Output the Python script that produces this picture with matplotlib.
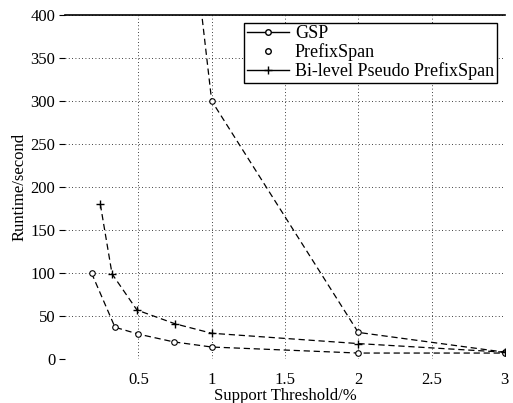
import matplotlib
matplotlib.use("Agg")
import matplotlib.pyplot as plt
from matplotlib.lines import Line2D

# Data
gsp_x = [0.75, 1.0, 2.0, 3.0]
gsp_y = [670, 300, 31, 8]

prefixspan_x = [0.18, 0.34, 0.5, 0.74, 1.0, 2.0, 3.0]
prefixspan_y = [100, 37, 29, 20, 14, 7, 7]

bilevel_x = [0.24, 0.32, 0.49, 0.75, 1.0, 2.0, 3.0]
bilevel_y = [180, 99, 57, 41, 30, 18, 8]

x_ticks = [0.5, 1, 1.5, 2, 2.5, 3]
y_ticks = [0, 50, 100, 150, 200, 250, 300, 350, 400]
labels = ["GSP", "PrefixSpan", "Bi-level Pseudo PrefixSpan"]

plt.rcParams['font.family'] = ['Liberation Serif', 'DejaVu Serif']

fig = plt.figure(figsize=(5.13, 4.03), dpi=100)
ax = fig.add_axes([0.127, 0.109, 0.857, 0.854])

ax.plot(gsp_x, gsp_y, linestyle=(0, (5, 3)), color='black', lw=0.9,
        marker='o', markersize=4, markerfacecolor='white', markeredgewidth=0.8)
ax.plot(prefixspan_x, prefixspan_y, linestyle=(0, (5, 3)), color='black', lw=0.9,
        marker='o', markersize=4, markerfacecolor='white', markeredgewidth=0.8)
ax.plot(bilevel_x, bilevel_y, linestyle=(0, (5, 3)), color='black', lw=0.9,
        marker='+', markersize=6, markeredgewidth=1.0)

ax.set_xlim(0, 3)
ax.set_ylim(0, 400)
ax.set_xticks(x_ticks)
ax.set_xticklabels(["0.5", "1", "1.5", "2", "2.5", "3"])
ax.set_yticks(y_ticks)
ax.grid(True, linestyle=(0, (1, 3)), color='black', lw=0.6)

for s in ['left', 'right', 'bottom']:
    ax.spines[s].set_visible(False)
ax.spines['top'].set_linewidth(1.2)
ax.tick_params(axis='x', length=0, pad=9, labelsize=12)
ax.tick_params(axis='y', length=4, pad=3, labelsize=12)

ax.set_xlabel("Support Threshold/%", fontsize=12, labelpad=0)
ax.set_ylabel("Runtime/second", fontsize=12, labelpad=2)

handles = [
    Line2D([], [], color='black', lw=1, marker='o', markersize=4, markerfacecolor='white'),
    Line2D([], [], color='black', lw=0, marker='o', markersize=4, markerfacecolor='white'),
    Line2D([], [], color='black', lw=1, marker='+', markersize=6),
]
leg = ax.legend(handles, labels, loc='upper right', bbox_to_anchor=(0.99, 0.988),
                fontsize=13, frameon=True, fancybox=False, framealpha=1,
                edgecolor='black', borderpad=0.15, labelspacing=0.05,
                handlelength=2.3, handletextpad=0.35, borderaxespad=0.2)
leg.get_frame().set_linewidth(1.0)

fig.savefig("out.png", dpi=100)
